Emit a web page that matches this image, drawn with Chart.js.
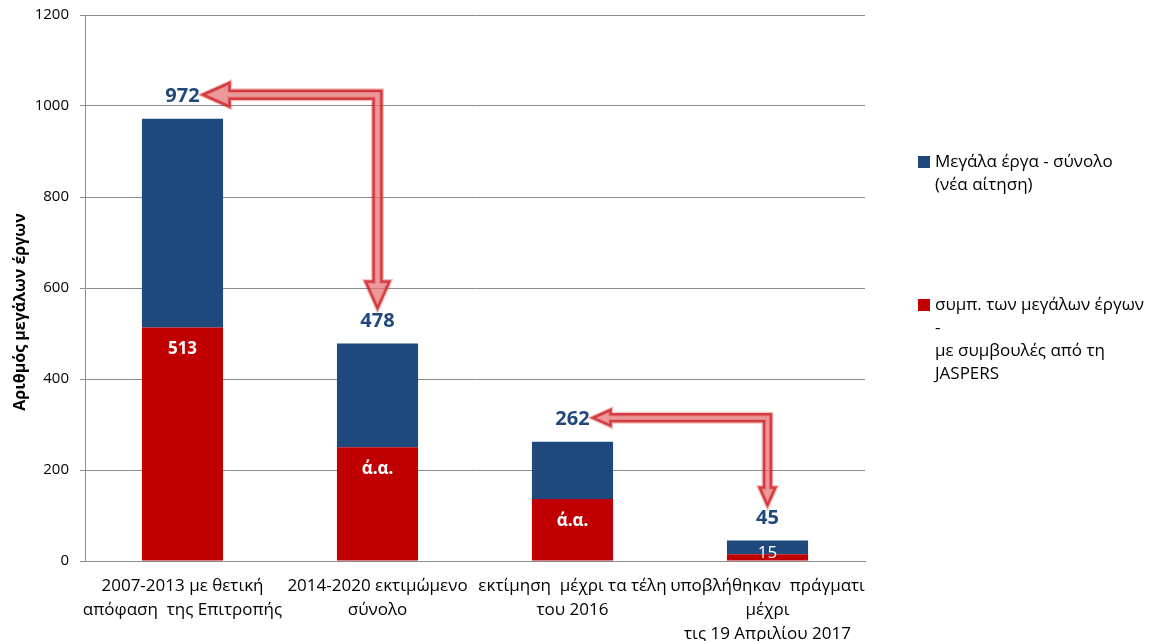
<!DOCTYPE html>
<html lang="el">
<head>
<meta charset="utf-8">
<title>Μεγάλα έργα</title>
<script src="https://cdn.jsdelivr.net/npm/chart.js@4.4.1/dist/chart.umd.min.js"></script>
<style>
    html, body { margin: 0; padding: 0; background: #fff; }
    #wrap { position: relative; width: 1151px; height: 641px; }
</style>
</head>
<body>
<div id="wrap"><canvas id="projectsChart" width="1151" height="641"></canvas></div>
<script>
// κατηγορίες (άξονας x)
const categories = [
    ['2007-2013 με θετική', 'απόφαση  της Επιτροπής'],
    ['2014-2020 εκτιμώμενο', 'σύνολο'],
    ['εκτίμηση  μέχρι τα τέλη', 'του 2016'],
    ['υποβλήθηκαν  πράγματι', 'μέχρι', 'τις 19 Απριλίου 2017']
];

// σύνολο μεγάλων έργων ανά κατηγορία
const totalProjects = [972, 478, 262, 45];
// έργα με συμβουλές από τη JASPERS
const jaspersProjects = [513, 250, 136, 15];
// ετικέτες μέσα στο κόκκινο τμήμα
const jaspersLabels = ['513', 'ά.α.', 'ά.α.', '15'];

const seriesNames = [
    ['Μεγάλα έργα - σύνολο', '(νέα αίτηση)'],
    ['συμπ. των μεγάλων έργων', '-', 'με συμβουλές από τη', 'JASPERS']
];

const yTicks = [0, 200, 400, 600, 800, 1000, 1200];
const yTitle = 'Αριθμός μεγάλων έργων';

const BLUE = '#1F497D';
const RED = '#C00000';
const GRID = '#8c8c8c';
const FONT = "'Open Sans', 'Noto Sans', sans-serif";

// τμήμα "υπόλοιπα" = σύνολο - JASPERS
const restProjects = totalProjects.map((t, i) => t - jaspersProjects[i]);

// βέλη από ένα σύνολο προς το επόμενο
const arrows = [
    { from: 0, to: 1, half: 4, headLen: 27, headHalf: 12 },
    { from: 2, to: 3, half: 3.5, headLen: 18, headHalf: 8 }
];

const totalLabelY = (y, i) => y.getPixelForValue(totalProjects[i]) - 22;

const labelsPlugin = {
    id: 'barLabels',
    afterDatasetsDraw(chart) {
        const ctx = chart.ctx;
        const x = chart.scales.x;
        const y = chart.scales.y;
        const base = y.getPixelForValue(0);
        ctx.save();
        ctx.textAlign = 'center';
        ctx.textBaseline = 'middle';

        totalProjects.forEach((t, i) => {
            ctx.font = 'bold 20px ' + FONT;
            ctx.fillStyle = BLUE;
            ctx.fillText(String(t), x.getPixelForValue(i), totalLabelY(y, i));
        });

        jaspersLabels.forEach((lbl, i) => {
            const top = y.getPixelForValue(jaspersProjects[i]);
            const small = base - top < 30;
            ctx.font = (small ? '' : 'bold ') + '17px ' + FONT;
            ctx.fillStyle = '#fff';
            ctx.fillText(lbl, x.getPixelForValue(i), Math.min(top + 22, base - 8));
        });

        // βέλη σε σχήμα Γ
        ctx.font = 'bold 20px ' + FONT;
        arrows.forEach(a => {
            const cx = x.getPixelForValue(a.to);
            const hy = totalLabelY(y, a.from) - 2;
            const tx = x.getPixelForValue(a.from) + ctx.measureText(String(totalProjects[a.from])).width / 2 + 3;
            const ty = totalLabelY(y, a.to) - 13;
            const w = a.half, hl = a.headLen, hw = a.headHalf;
            const pts = [
                [tx, hy], [tx + hl, hy - hw], [tx + hl, hy - w], [cx + w, hy - w],
                [cx + w, ty - hl], [cx + hw, ty - hl], [cx, ty], [cx - hw, ty - hl],
                [cx - w, ty - hl], [cx - w, hy + w], [tx + hl, hy + w], [tx + hl, hy + hw]
            ];
            ctx.beginPath();
            pts.forEach((p, k) => k ? ctx.lineTo(p[0], p[1]) : ctx.moveTo(p[0], p[1]));
            ctx.closePath();
            ctx.lineJoin = 'miter';
            ctx.strokeStyle = 'rgba(220, 60, 60, 0.3)';
            ctx.lineWidth = 5;
            ctx.stroke();
            ctx.fillStyle = 'rgba(228, 110, 110, 0.7)';
            ctx.fill();
            ctx.strokeStyle = 'rgba(205, 35, 40, 0.8)';
            ctx.lineWidth = 2.5;
            ctx.stroke();
        });
        ctx.restore();
    }
};

// ετικέτες άξονα x, τίτλος άξονα y και υπόμνημα
const textPlugin = {
    id: 'sideTexts',
    afterDraw(chart) {
        const ctx = chart.ctx;
        const x = chart.scales.x;
        const base = chart.chartArea.bottom;
        ctx.save();
        ctx.fillStyle = '#000';
        ctx.textAlign = 'center';
        ctx.textBaseline = 'middle';
        ctx.font = '17px ' + FONT;
        categories.forEach((lines, i) => {
            lines.forEach((ln, k) => {
                ctx.fillText(ln, x.getPixelForValue(i), base + 25 + k * 24);
            });
        });

        ctx.save();
        ctx.font = 'bold 16px ' + FONT;
        ctx.translate(20, 312);
        ctx.rotate(-Math.PI / 2);
        ctx.fillText(yTitle, 0, 0);
        ctx.restore();

        const left = chart.chartArea.right + 53;
        const rows = [
            { color: BLUE, lines: seriesNames[0], top: 162 },
            { color: RED, lines: seriesNames[1], top: 305 }
        ];
        ctx.font = '17px ' + FONT;
        ctx.textAlign = 'left';
        rows.forEach(r => {
            ctx.fillStyle = r.color;
            ctx.fillRect(left, r.top - 6, 12, 12);
            ctx.fillStyle = '#000';
            r.lines.forEach((ln, k) => ctx.fillText(ln, left + 17, r.top + k * 23));
        });
        ctx.restore();
    }
};

new Chart(document.getElementById('projectsChart').getContext('2d'), {
    type: 'bar',
    data: {
        labels: categories,
        datasets: [
            {
                label: seriesNames[1].join(' '),
                data: jaspersProjects,
                backgroundColor: RED,
                categoryPercentage: 0.8,
                barPercentage: 0.52
            },
            {
                label: seriesNames[0].join(' '),
                data: restProjects,
                backgroundColor: BLUE,
                categoryPercentage: 0.8,
                barPercentage: 0.52
            }
        ]
    },
    options: {
        responsive: false,
        animation: false,
        layout: { padding: { top: 15, right: 286, left: 0, bottom: 0 } },
        plugins: {
            legend: { display: false },
            tooltip: { enabled: false }
        },
        scales: {
            x: {
                stacked: true,
                grid: { display: false },
                border: { color: GRID },
                ticks: { display: false },
                afterFit: s => { s.height = 80; }
            },
            y: {
                stacked: true,
                min: 0,
                max: 1200,
                afterBuildTicks: s => { s.ticks = yTicks.map(v => ({ value: v })); },
                grid: { color: GRID, tickLength: 5 },
                border: { color: GRID },
                ticks: {
                    color: '#000',
                    font: { family: FONT, size: 15 },
                    padding: 11,
                    callback: v => String(v)
                },
                afterFit: s => {
                    s.width = 85;
                    s.paddingTop = 0;
                    s.paddingBottom = 0;
                }
            }
        }
    },
    plugins: [labelsPlugin, textPlugin]
});
</script>
</body>
</html>
